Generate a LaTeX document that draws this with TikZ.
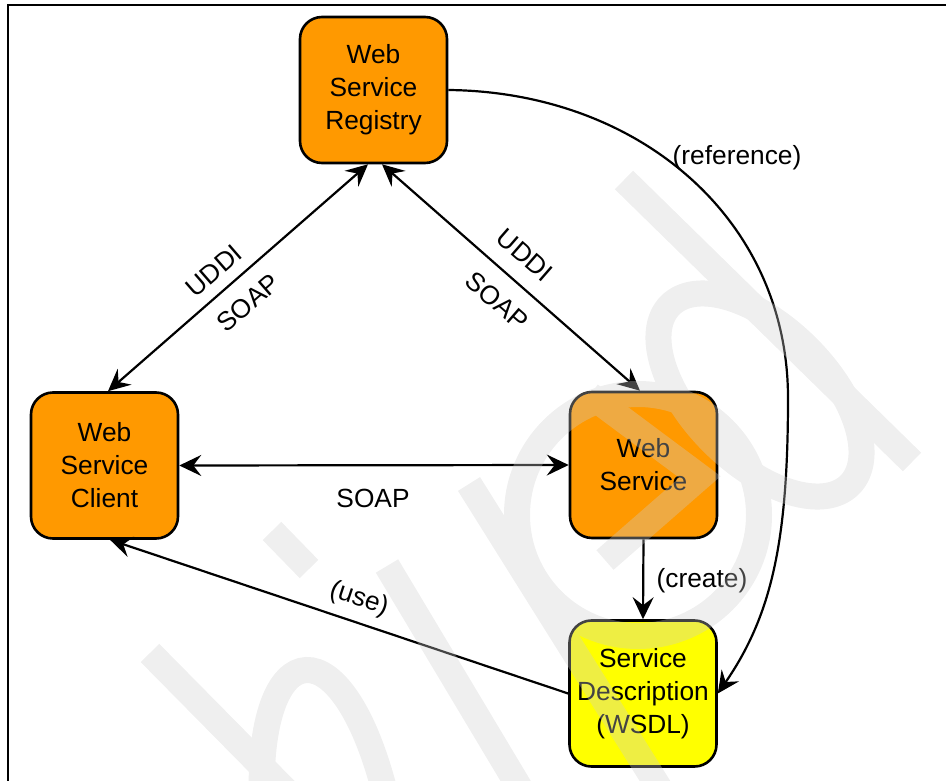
\documentclass[tikz,border=0pt]{standalone}
\usepackage{fontspec}
\setmainfont{Liberation Sans}
\usetikzlibrary{arrows.meta}
\definecolor{boxorange}{HTML}{FF9900}
\definecolor{boxyellow}{HTML}{FFFF00}
\definecolor{markgray}{RGB}{206,206,206}

\begin{document}
\begin{tikzpicture}[x=1pt,y=-1pt,
  >={Stealth[length=22pt,width=21pt,inset=8pt]},
  txt/.style={font=\fontsize{26.3}{33}\selectfont},
  svc/.style={txt, draw=black, line width=2.6pt, rounded corners=22pt,
    fill=boxorange, minimum width=147pt, minimum height=146pt,
    inner sep=0pt, align=center},
  desc/.style={svc, fill=boxyellow},
  link/.style={line width=2.2pt, ->},
  duplex/.style={line width=2.2pt, <->},
  lbl/.style={txt, inner sep=0pt},
  wmstroke/.style={draw=markgray, line width=26pt, line cap=butt}
]
\useasboundingbox (0,0) rectangle (946,781);

% page frame
\draw[line width=1.2pt] (946,5) -- (8,5) -- (8,781);

% services
\node[svc]  (reg)    at (373.5,90)  {Web\\Service\\Registry};
\node[svc]  (client) at (104.5,465.5) {Web\\Service\\Client};
\node[svc]  (ws)     at (643.5,465) {Web\\Service};
\node[desc] (wsdl)   at (643,693.5) {Service\\Description\\(WSDL)};

% connectors
\draw[duplex] ([xshift=3.5pt]client.north) -- ([xshift=-5.5pt]reg.south);
\draw[duplex] ([xshift=8.5pt]reg.south) -- ([xshift=-3.5pt]ws.north);
\draw[duplex] (client.east) -- (ws.west);
\draw[link] (ws.south) -- (wsdl.north);
\draw[link] (wsdl.west) -- ([xshift=5.5pt]client.south);
\coordinate (refbend) at (788,398);
\draw[link] (reg.east) .. controls (640,92) and (788,220) .. (refbend)
  .. controls (788,540) and (772,615) .. (wsdl.east);

% labels
\node[lbl, rotate=41]  (uddiL) at (214,271) {UDDI};
\node[lbl, rotate=41]  (soapL) at (248,303) {SOAP};
\node[lbl, rotate=-41] (uddiR) at (525,255) {UDDI};
\node[lbl, rotate=-41] (soapR) at (497,301) {SOAP};
\node[lbl] (soapM) at (373,498) {SOAP};
\node[lbl, rotate=-18.4] (use) at (359,599) {(use)};
\node[lbl] (create) at (702,581) {(create)};
\node[lbl] (ref) at (737,158) {(reference)};

% watermark
\begin{scope}[transparency group, opacity=0.33]
  \clip (0,0) rectangle (946,781);
  \draw[wmstroke] (150,653) -- (300,805);
  \draw[wmstroke] (272,531) -- (309,569);
  \draw[wmstroke] (262,805) .. controls (255,630) and (345,620) .. (388,805);
  \draw[wmstroke] (387,566) -- (530,805);
  \draw[wmstroke] (469,484) -- (670,805);
  \draw[wmstroke] (624,180) -- (912,462);
  \draw[wmstroke, rotate around={-45:(760,395)}] (760,395) ellipse [x radius=127, y radius=67];
  \draw[wmstroke] (638,515) circle [radius=121];
  \draw[wmstroke, line join=miter] (590,395) -- (700,477) -- (605,560);
\end{scope}
\end{tikzpicture}
\end{document}
